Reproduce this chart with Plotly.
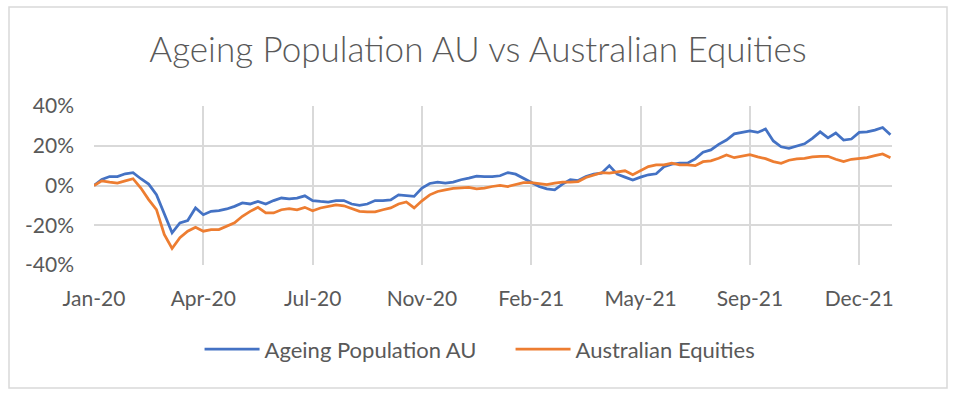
import plotly.graph_objects as go

# x positions: trading-day index, sampled every 5 trading days
step = 5
ageing_pop_au = [
    0, 3, 4.5, 4.5, 5.9, 6.5, 3.4, 0.7, -4.6, -13.8,
    -23.8, -18.8, -17.6, -11.3, -14.7, -13, -12.6, -11.8, -10.5, -8.8,
    -9.3, -8, -9.3, -7.6, -6.3, -6.7, -6.3, -5.2, -7.6, -8,
    -8.3, -7.6, -7.6, -9.3, -10, -9.3, -7.6, -7.6, -7.2, -4.7,
    -5, -5.5, -1.3, 1, 1.7, 1.2, 1.7, 2.9, 3.7, 4.7,
    4.5, 4.5, 4.9, 6.5, 5.7, 3.7, 1.7, -0.5, -1.7, -2.2,
    0.7, 2.9, 2.5, 4.5, 5.7, 6.2, 10, 5.7, 4.2, 2.7,
    4.2, 5.4, 5.9, 9.5, 10.7, 11.2, 11.2, 13.4, 16.7, 17.9,
    20.7, 22.9, 26, 26.7, 27.5, 26.7, 28.4, 22.4, 19.5, 18.7,
    20, 21, 23.7, 27, 24, 26.4, 22.9, 23.4, 26.7, 27,
    27.9, 29.2, 25.5,
]
australian_equities = [
    0, 2.3, 1.7, 1.2, 2.3, 3.4, -1.3, -7.1, -12.1, -24.6,
    -31.7, -26.3, -23, -21, -23, -22.2, -22.2, -20.5, -18.8, -15.5,
    -13, -11, -13.8, -13.8, -12.2, -11.7, -12.2, -11, -12.7, -11.3,
    -10.5, -9.7, -10.2, -11.7, -13, -13.3, -13.3, -12.2, -11.3, -9.3,
    -8.3, -11.3, -7.7, -4.7, -3, -2.2, -1.5, -1.2, -1, -1.7,
    -1.3, -0.5, 0, -0.5, 0.4, 1.4, 1.5, 0.9, 0.4, 1.2,
    1.7, 1.7, 2, 4, 5.4, 6.5, 6.2, 6.7, 7.4, 5.4,
    7.4, 9.5, 10.4, 10.4, 11.2, 10.4, 10.4, 10, 12, 12.4,
    13.7, 15.4, 14, 14.7, 15.5, 14.4, 13.5, 12, 11.2, 12.7,
    13.4, 13.7, 14.4, 14.7, 14.7, 13.2, 12, 13.2, 13.5, 14,
    15, 15.9, 14,
]
x_index = [i * step for i in range(len(ageing_pop_au))]

tick_positions = [0, 70, 140, 210, 280, 350, 420, 490]
tick_labels = ["Jan-20", "Apr-20", "Jul-20", "Nov-20", "Feb-21", "May-21", "Sep-21", "Dec-21"]
y_ticks = [-40, -20, 0, 20, 40]
y_tick_labels = ["-40%", "-20%", "0%", "20%", "40%"]

series_names = ["Ageing Population AU", "Australian Equities"]
colors = ["#4472C4", "#ED7D31"]

FONT = "Lato, 'Open Sans', sans-serif"
GREY = "#595959"

fig = go.Figure()
for name, vals, col in zip(series_names, [ageing_pop_au, australian_equities], colors):
    fig.add_trace(go.Scatter(
        x=x_index, y=vals, mode="lines", name=name,
        line=dict(color=col, width=2.75),
    ))

# plot area: x 94..892, y 106..265
fig.update_layout(
    width=956, height=396,
    margin=dict(l=94, r=64, t=106, b=131),
    paper_bgcolor="white", plot_bgcolor="white",
    title=dict(
        text="Ageing Population AU vs Australian Equities",
        x=0.5, xanchor="center", y=0.875, yanchor="middle",
        font=dict(family=FONT, size=35, color=GREY, weight=300),
    ),
    showlegend=True,
    legend=dict(
        orientation="h", x=0.522, xanchor="center", y=-0.53, yanchor="middle",
        font=dict(family=FONT, size=22, color=GREY),
        itemwidth=55, entrywidth=241, bgcolor="rgba(0,0,0,0)",
    ),
    xaxis=dict(
        range=[0, 511], tickmode="array", tickvals=tick_positions, ticktext=tick_labels,
        showgrid=True, gridcolor="#D9D9D9", gridwidth=1.5, zeroline=False,
        showline=False, ticks="",
        tickfont=dict(family=FONT, size=21, color=GREY),
        ticklabelstandoff=19,
    ),
    yaxis=dict(
        range=[-40, 40], tickmode="array", tickvals=y_ticks, ticktext=y_tick_labels,
        showgrid=True, gridcolor="#D9D9D9", gridwidth=1.5, zeroline=False,
        showline=False, ticks="",
        tickfont=dict(family=FONT, size=21, color=GREY),
        ticklabelstandoff=19,
    ),
)

# outer chart border
fig.add_shape(
    type="rect", xref="paper", yref="paper",
    x0=(9 - 94) / 798, x1=(947 - 94) / 798,
    y0=(265 - 388) / 159, y1=(265 - 7) / 159,
    line=dict(color="#D9D9D9", width=1.5), fillcolor="rgba(0,0,0,0)", layer="below",
)

fig.write_html("out.html", config={"displayModeBar": False},
               post_script="document.body.style.margin='0px';")
